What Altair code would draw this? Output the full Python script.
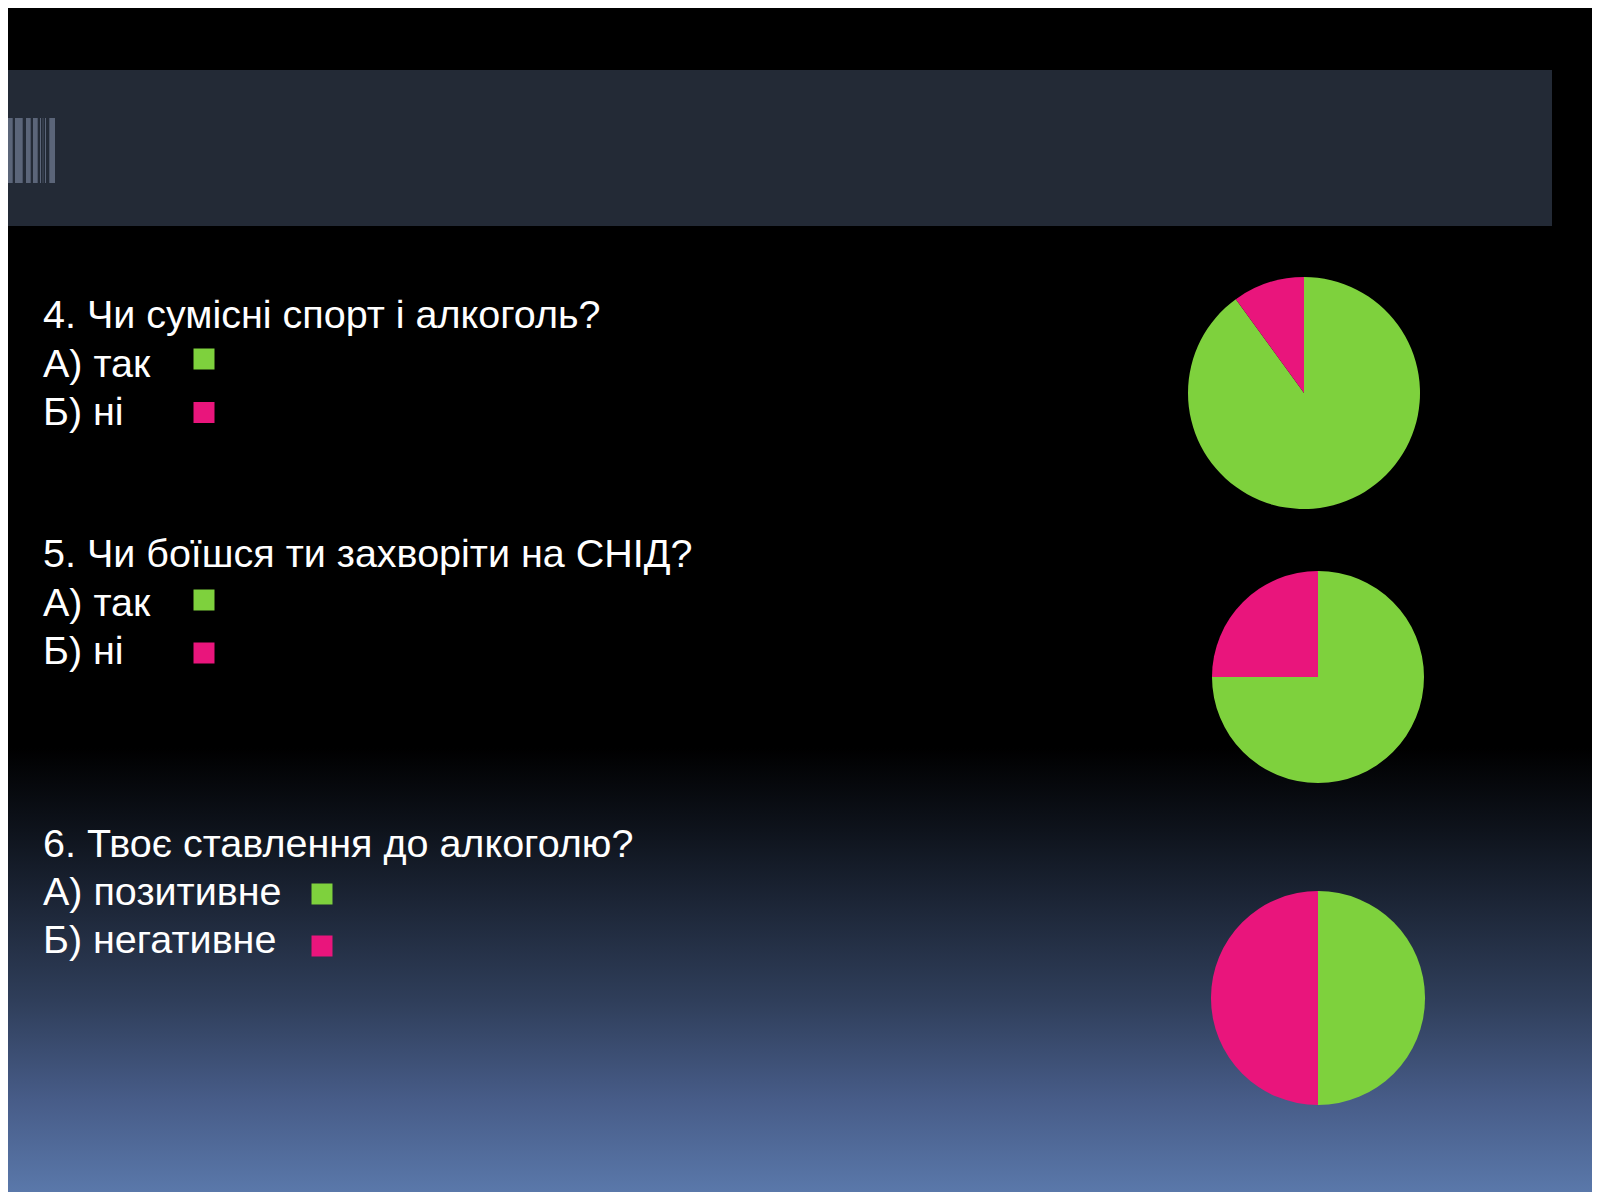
import altair as alt
import pandas as pd

# ---- data ----
options = ["А", "Б"]
q4_values = [90, 10]   # так / ні
q5_values = [75, 25]   # так / ні
q6_values = [50, 50]   # позитивне / негативне

q4_lines = ["4. Чи сумісні спорт і алкоголь?", "А) так", "Б) ні"]
q5_lines = ["5. Чи боїшся ти захворіти на СНІД?", "А) так", "Б) ні"]
q6_lines = ["6. Твоє ставлення до алкоголю?", "А) позитивне", "Б) негативне"]

barcode_x0 = [-8, -3.3, 0, 7, 18, 25, 32, 34.7, 37, 41.3]
barcode_x1 = [-6.3, -1.3, 4.7, 14.7, 22.7, 29.7, 33, 35.3, 38, 47]

# ---- styling ----
W, H = 1584, 1184
GREEN = "#7ed13d"
PINK = "#e9157c"
FONT = "Liberation Sans"
color_scale = alt.Scale(domain=options, range=[GREEN, PINK])

one = pd.DataFrame({"k": [0]})

bg = alt.Chart(one).mark_rect(
    color=alt.LinearGradient(
        gradient="linear",
        stops=[
            alt.GradientStop(color="#000000", offset=0),
            alt.GradientStop(color="#000000", offset=0.625),
            alt.GradientStop(color="#0e131c", offset=0.695),
            alt.GradientStop(color="#2f3e5a", offset=0.838),
            alt.GradientStop(color="#475c88", offset=0.922),
            alt.GradientStop(color="#5a78aa", offset=1),
        ],
        x1=0, x2=0, y1=0, y2=1,
    )
).encode(x=alt.value(0), x2=alt.value(W), y=alt.value(0), y2=alt.value(H))

band = alt.Chart(one).mark_rect(color="#232a36").encode(
    x=alt.value(0), x2=alt.value(1544), y=alt.value(62), y2=alt.value(218)
)

bars = alt.Chart(pd.DataFrame({"x0": barcode_x0, "x1": barcode_x1})).mark_rect(
    color="#5b6579"
).encode(
    x=alt.X("x0:Q", scale=alt.Scale(domain=[0, W], nice=False, zero=False), axis=None),
    x2="x1:Q",
    y=alt.value(110),
    y2=alt.value(175),
)

layers = [bg, band, bars]


def text_block(lines, x, ys):
    out = []
    for t, yy in zip(lines, ys):
        out.append(
            alt.Chart(pd.DataFrame({"t": [t]})).mark_text(
                align="left", baseline="alphabetic", font=FONT, fontSize=39.5, color="#ffffff"
            ).encode(text="t:N", x=alt.value(x), y=alt.value(yy))
        )
    return out


def squares(x, ys):
    return alt.Chart(pd.DataFrame({"option": options, "yy": ys})).mark_square(
        size=441, opacity=1
    ).encode(
        x=alt.value(x),
        y=alt.Y("yy:Q", scale=alt.Scale(domain=[0, H], range=[0, H], nice=False, zero=False), axis=None),
        color=alt.Color("option:N", scale=color_scale, legend=None),
    )


def pie(values, cx, cy, r):
    return alt.Chart(pd.DataFrame({"option": options, "value": values})).mark_arc(
        radius=r
    ).encode(
        theta=alt.Theta("value:Q", stack=True),
        color=alt.Color("option:N", scale=color_scale, legend=None),
        order=alt.Order("option:N"),
        x=alt.value(cx),
        y=alt.value(cy),
    )


layers += text_block(q4_lines, 35, [320, 369, 417])
layers += text_block(q5_lines, 35, [559, 608, 656])
layers += text_block(q6_lines, 35, [849, 897, 945])
layers += [squares(196, [351, 404.5]), squares(196, [592, 645]), squares(314, [886, 938])]
layers += [pie(q4_values, 1296, 385, 116), pie(q5_values, 1310, 669, 106), pie(q6_values, 1310, 990, 107)]

chart = alt.layer(*layers).properties(
    width=W, height=H, padding=0, autosize=alt.AutoSizeParams(type="none"), background="#000000"
).configure_view(stroke=None)

chart.save("out.html", embed_options={"renderer": "svg", "actions": False})
